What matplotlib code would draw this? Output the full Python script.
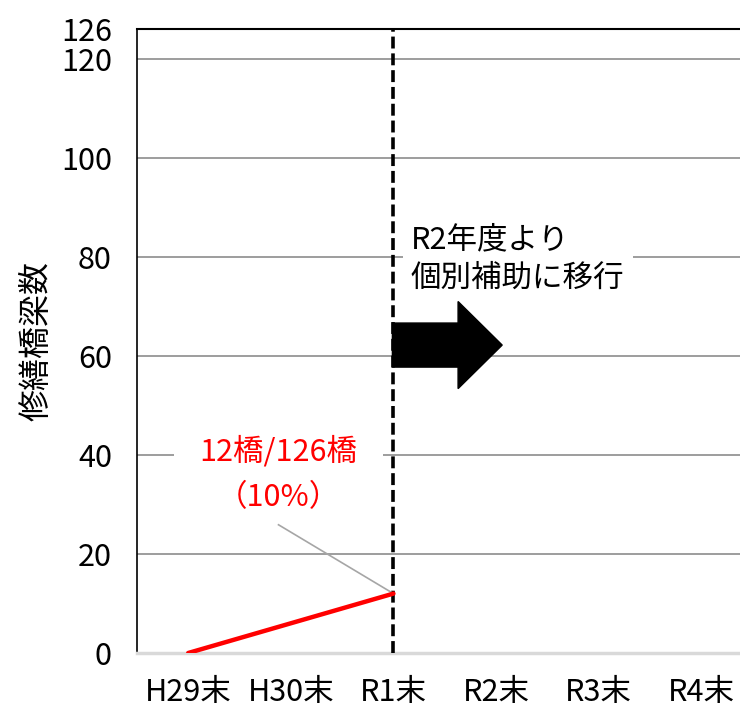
import matplotlib
matplotlib.use("Agg")
import matplotlib.pyplot as plt
from matplotlib.patches import FancyArrow

plt.rcParams['font.family'] = ['Liberation Sans Narrow', 'Noto Sans CJK JP', 'DejaVu Sans']

# Data
categories = ["H29末", "H30末", "R1末", "R2末", "R3末", "R4末"]
repaired = [0, 6, 12]            # cumulative repaired bridges up to R1末
total_bridges = 126
y_ticks = [0, 20, 40, 60, 80, 100, 120, 126]

fs = 22

fig = plt.figure(figsize=(7.4, 7.08), dpi=100)
ax = fig.add_axes([0.185, 0.0777, 0.832, 0.881])

x = list(range(len(categories)))
ax.set_xlim(-0.5, len(categories) - 0.5)
ax.set_ylim(0, total_bridges)

# horizontal gridlines
for v in y_ticks[1:-1]:
    ax.axhline(v, color="#8c8c8c", lw=1.2, zorder=1)

# spines
ax.spines["right"].set_visible(False)
ax.spines["top"].set_color("black")
ax.spines["top"].set_linewidth(1.5)
ax.spines["left"].set_color("black")
ax.spines["left"].set_linewidth(1.2)
ax.spines["bottom"].set_color("#d9d9d9")
ax.spines["bottom"].set_linewidth(2.5)

ax.set_yticks(y_ticks)
ax.set_yticklabels([str(v) for v in y_ticks], fontsize=fs)
ax.set_xticks(x)
ax.set_xticklabels(categories, fontsize=fs)
ax.tick_params(axis="y", length=0, pad=18)
ax.tick_params(axis="x", length=0, pad=17)
ax.set_ylabel("修繕橋梁数", fontsize=23, labelpad=6)

# boundary of the program change
ax.axvline(2, color="black", lw=2.6, dashes=(3.3, 1.35), zorder=4)

# cumulative repaired bridges
ax.plot(x[:len(repaired)][::2], repaired[::2], color="#ff0000", lw=3.2,
        solid_capstyle="round", zorder=5)

# leader line to the R1末 value
ax.plot([0.88, 2], [25.9, repaired[-1]], color="#a6a6a6", lw=1.2, zorder=4)
ax.text(0.88, 36.0, f"{repaired[-1]}橋/{total_bridges}橋\n（{round(repaired[-1] / total_bridges * 100)}%）",
        color="#ff0000", fontsize=fs, ha="center", va="center", linespacing=1.6,
        bbox=dict(facecolor="white", edgecolor="none", pad=18), zorder=3)

# transition arrow and note
arrow = FancyArrow(1.99, 62.2, 1.07, 0, width=8.9, head_width=17.6,
                   head_length=0.43, length_includes_head=True,
                   color="black", zorder=6)
ax.add_patch(arrow)
ax.text(2.17, 79.6, "R2年度より\n個別補助に移行", fontsize=fs, ha="left", va="center",
        linespacing=1.3, bbox=dict(facecolor="white", edgecolor="none", pad=6), zorder=3)

fig.savefig("out.png", dpi=100)
